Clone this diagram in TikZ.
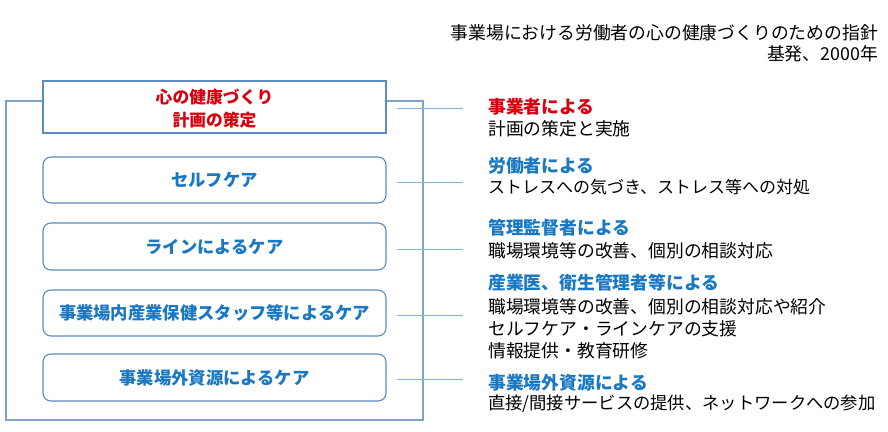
\documentclass[tikz,border=0pt]{standalone}
\usepackage{fontspec}
\setmainfont{Noto Sans CJK JP}
\definecolor{hdblue}{HTML}{1A78C2}
\definecolor{hdred}{HTML}{D7000F}
\definecolor{boxline}{HTML}{5A8DBE}
\definecolor{frameline}{HTML}{7FA3C6}
\definecolor{connline}{HTML}{7DB4E0}
\tikzset{
  carebox/.style={draw=boxline, line width=1.1pt, rounded corners=8pt, fill=white},
  planbox/.style={draw=boxline, line width=1.1pt, fill=white},
  boxtext/.style={font=\fontsize{17.3}{21}\selectfont\bfseries, text=hdblue},
  head/.style={anchor=west, inner sep=0pt, font=\fontsize{17.8}{21}\selectfont\bfseries, text=hdblue},
  body/.style={anchor=west, inner sep=0pt, font=\fontsize{17.8}{21}\selectfont, text=black},
  frame/.style={draw=frameline, line width=1.3pt},
  conn/.style={draw=connline, line width=1pt},
}
\begin{document}
\begin{tikzpicture}[x=1pt,y=-1pt]
\useasboundingbox (0,0) rectangle (888,431);
% outer frame
\draw[frame] (6,101) rectangle (423,420);
% boxes
\draw[planbox] (43,81) rectangle (386,133);
\node[text=hdred, align=center, font=\fontsize{16.8}{23}\selectfont\bfseries] (plan) at (214.5,109) {心の健康づくり\\計画の策定};
\draw[carebox] (43,157) rectangle (386,203);
\node[boxtext] (self) at (214.5,180) {セルフケア};
\draw[carebox] (43,223) rectangle (386,270);
\node[boxtext] (line) at (214.5,246.5) {ラインによるケア};
\draw[carebox] (43,290) rectangle (386,336);
\node[boxtext] (staff) at (214.5,313) {事業場内産業保健スタッフ等によるケア};
\draw[carebox] (43,354) rectangle (386,401);
\node[boxtext] (ext) at (214.5,377.5) {事業場外資源によるケア};
% connectors
\coordinate (c1a) at (397,108); \coordinate (c1b) at (463,108);
\coordinate (c2a) at (397,182); \coordinate (c2b) at (463,182);
\coordinate (c3a) at (397,249); \coordinate (c3b) at (463,249);
\coordinate (c4a) at (397,315); \coordinate (c4b) at (463,315);
\coordinate (c5a) at (397,379); \coordinate (c5b) at (463,379);
\draw[conn] (c1a) -- (c1b);
\draw[conn] (c2a) -- (c2b);
\draw[conn] (c3a) -- (c3b);
\draw[conn] (c4a) -- (c4b);
\draw[conn] (c5a) -- (c5b);
% title
\node[anchor=east, inner sep=0pt, font=\fontsize{17.8}{21}\selectfont] (title1) at (878,33) {事業場における労働者の心の健康づくりのための指針};
\node[anchor=east, inner sep=0pt, font=\fontsize{17.8}{21}\selectfont] (title2) at (878,54) {基発、2000年};
% right texts
\node[head, text=hdred] (h1) at (488,107) {事業者による};
\node[body] (b1) at (488,129) {計画の策定と実施};
\node[head] (h2) at (488,166) {労働者による};
\node[body, font=\fontsize{17.0}{21}\selectfont] (b2) at (488,187) {ストレスへの気づき、ストレス等への対処};
\node[head] (h3) at (488,228) {管理監督者による};
\node[body] (b3) at (488,251) {職場環境等の改善、個別の相談対応};
\node[head] (h4) at (488,283) {産業医、衛生管理者等による};
\node[body] (b4a) at (488,307) {職場環境等の改善、個別の相談対応や紹介};
\node[body] (b4b) at (488,329) {セルフケア・ラインケアの支援};
\node[body] (b4c) at (488,351) {情報提供・教育研修};
\node[head] (h5) at (488,383) {事業場外資源による};
\node[body, font=\fontsize{17.3}{21}\selectfont] (b5) at (488,404) {直接/間接サービスの提供、ネットワークへの参加};
\end{tikzpicture}
\end{document}
